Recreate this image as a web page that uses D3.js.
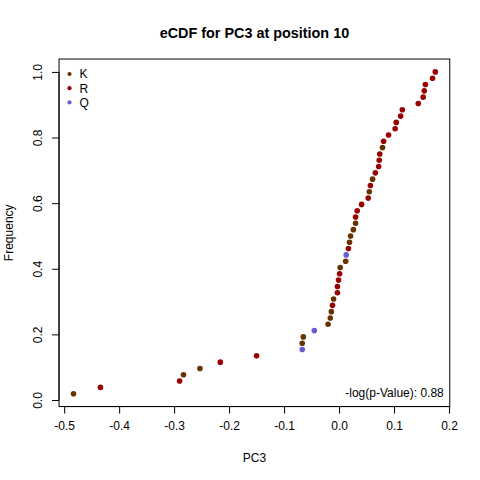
<!DOCTYPE html>
<html>
<head>
<meta charset="utf-8">
<script src="https://cdn.jsdelivr.net/npm/d3@7"></script>
<style>
  body { margin: 0; background: #fff; }
  svg { display: block; font-family: "Liberation Sans", Arial, sans-serif; }
</style>
</head>
<body>
<div id="chart-area"></div>
<script>
// sorted PC3 values and residue at each point
var pc3Values = [
	-0.483, -0.434, -0.290, -0.283, -0.253, -0.216, -0.150, -0.067, -0.067, -0.065,
	-0.045, -0.020, -0.016, -0.014, -0.012, -0.010, -0.003, -0.003, -0.001, 0.001,
	0.002, 0.012, 0.013, 0.017, 0.019, 0.021, 0.026, 0.030, 0.030, 0.033,
	0.041, 0.053, 0.055, 0.057, 0.061, 0.066, 0.072, 0.073, 0.074, 0.079,
	0.081, 0.090, 0.102, 0.104, 0.112, 0.115, 0.144, 0.153, 0.155, 0.157,
	0.170, 0.175
];
var residues = [
	'K', 'R', 'R', 'K', 'K', 'R', 'R', 'Q', 'K', 'K',
	'Q', 'K', 'K', 'K', 'R', 'K', 'R', 'R', 'R', 'R',
	'K', 'K', 'Q', 'R', 'K', 'K', 'K', 'K', 'R', 'R',
	'R', 'R', 'K', 'R', 'K', 'R', 'R', 'R', 'R', 'K',
	'R', 'R', 'R', 'R', 'R', 'R', 'R', 'R', 'R', 'R',
	'R', 'R'
];
var legendKeys = ['K', 'R', 'Q'];
var legendColors = ['#663300', '#990000', '#6A5ACD'];
var xTicks = [-0.5, -0.4, -0.3, -0.2, -0.1, 0.0, 0.1, 0.2];
var yTicks = [0.0, 0.2, 0.4, 0.6, 0.8, 1.0];
var pValueText = '-log(p-Value): 0.88';

var W = 480, H = 480;
var plot = { left: 59.04, right: 449.76, top: 59.04, bottom: 406.56 };

var n = pc3Values.length;
var data = pc3Values.map((v, i) => ({ x: v, y: (i + 1) / n, res: residues[i] }));

// R style 4% padding round the data range
function pad(ext) {
	var r = ext[1] - ext[0];
	return [ext[0] - 0.04 * r, ext[1] + 0.04 * r];
}

var x = d3.scaleLinear()
	.domain(pad(d3.extent(data, d => d.x)))
	.range([plot.left, plot.right]);
var y = d3.scaleLinear()
	.domain(pad(d3.extent(data, d => d.y)))
	.range([plot.bottom, plot.top]);
var color = d3.scaleOrdinal().domain(legendKeys).range(legendColors);

var svg = d3.select('#chart-area')
	.append('svg')
	.attr('width', W)
	.attr('height', H);

// title
svg.append('text')
	.attr('x', (plot.left + plot.right) / 2)
	.attr('y', 38)
	.attr('text-anchor', 'middle')
	.attr('font-size', '14.4px')
	.attr('font-weight', 'bold')
	.text('eCDF for PC3 at position 10');

// x axis
var xAxis = d3.axisBottom(x)
	.tickValues(xTicks)
	.tickSize(7)
	.tickPadding(8)
	.tickFormat(d => d.toFixed(1));

var gx = svg.append('g')
	.attr('transform', 'translate(0,' + plot.bottom + ')')
	.call(xAxis);
gx.select('.domain').remove();
gx.append('line')
	.attr('x1', x(xTicks[0]))
	.attr('x2', x(xTicks[xTicks.length - 1]))
	.attr('stroke', '#000');
gx.selectAll('text')
	.attr('font-size', '12px')
	.attr('font-family', '"Liberation Sans", Arial, sans-serif')
	.attr('fill', '#000');

// y axis
var yAxis = d3.axisLeft(y)
	.tickValues(yTicks)
	.tickSize(7)
	.tickFormat(d => d.toFixed(1));

var gy = svg.append('g')
	.attr('transform', 'translate(' + plot.left + ',0)')
	.call(yAxis);
gy.select('.domain').remove();
gy.append('line')
	.attr('y1', y(yTicks[0]))
	.attr('y2', y(yTicks[yTicks.length - 1]))
	.attr('stroke', '#000');
gy.selectAll('.tick text')
	.attr('x', null)
	.attr('dy', null)
	.attr('text-anchor', 'middle')
	.attr('transform', 'translate(-17,0) rotate(-90)')
	.attr('font-size', '12px')
	.attr('font-family', '"Liberation Sans", Arial, sans-serif')
	.attr('fill', '#000');

// axis titles
svg.append('text')
	.attr('x', (plot.left + plot.right) / 2)
	.attr('y', 462)
	.attr('text-anchor', 'middle')
	.attr('font-size', '12px')
	.text('PC3');

svg.append('text')
	.attr('transform', 'translate(13,' + (plot.top + plot.bottom) / 2 + ') rotate(-90)')
	.attr('text-anchor', 'middle')
	.attr('font-size', '12px')
	.text('Frequency');

// box
svg.append('rect')
	.attr('x', plot.left)
	.attr('y', plot.top)
	.attr('width', plot.right - plot.left)
	.attr('height', plot.bottom - plot.top)
	.attr('fill', 'none')
	.attr('stroke', '#000');

// points
svg.append('g')
	.selectAll('circle')
	.data(data)
	.enter()
	.append('circle')
		.attr('cx', d => x(d.x))
		.attr('cy', d => y(d.y))
		.attr('r', 2.8)
		.attr('fill', d => color(d.res));

// legend
var legend = svg.append('g')
	.selectAll('g')
	.data(legendKeys)
	.enter()
	.append('g')
		.attr('transform', (d, i) => 'translate(69.5,' + (74 + i * 14.2) + ')');
legend.append('circle')
	.attr('r', 2.1)
	.attr('fill', d => color(d));
legend.append('text')
	.attr('x', 10)
	.attr('y', 4.3)
	.attr('font-size', '12px')
	.text(d => d);

// p-value note
svg.append('text')
	.attr('x', plot.right - 6)
	.attr('y', plot.bottom - 9.5)
	.attr('text-anchor', 'end')
	.attr('font-size', '12px')
	.text(pValueText);
</script>
</body>
</html>
